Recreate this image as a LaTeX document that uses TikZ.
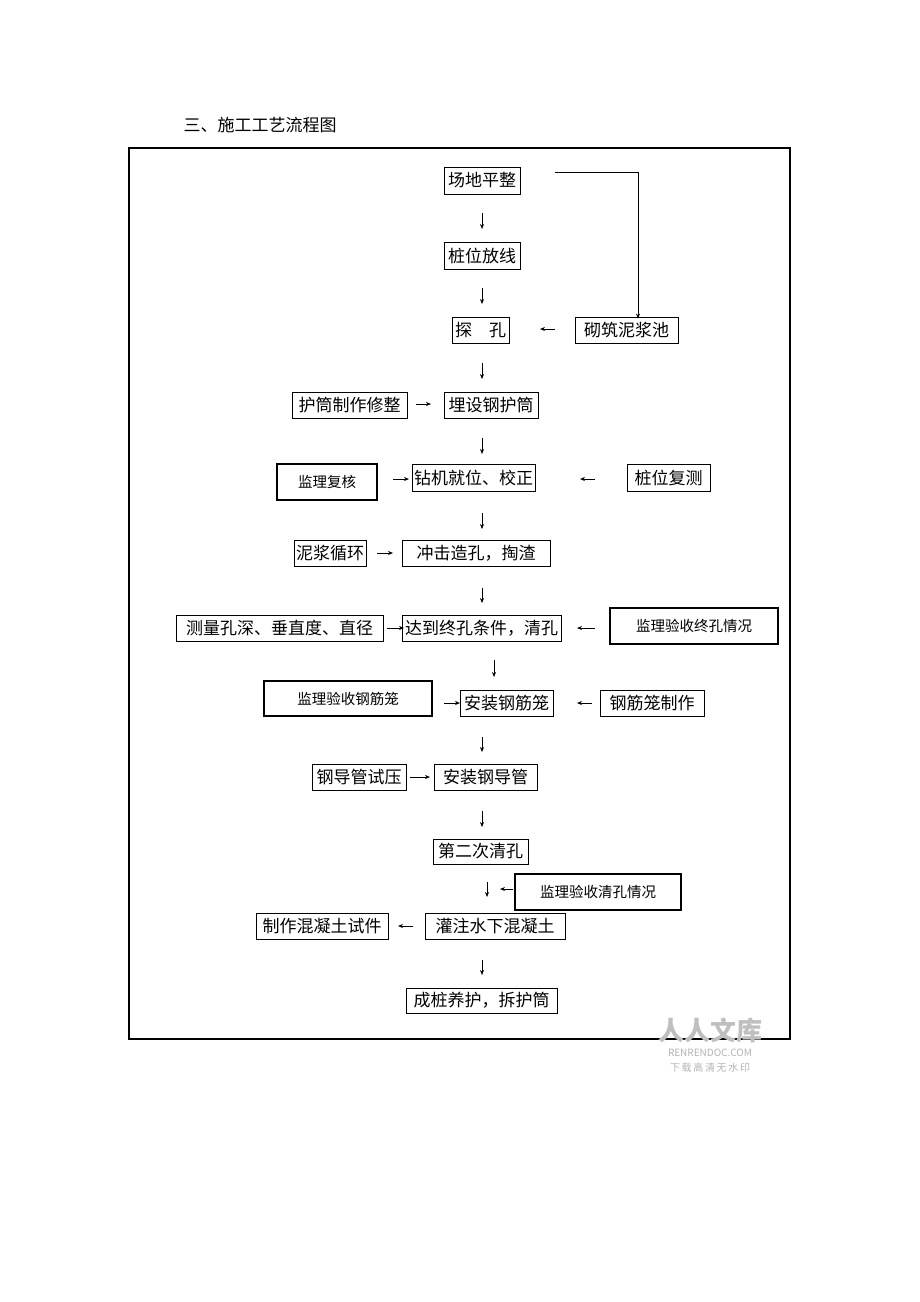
\documentclass[tikz,border=0pt]{standalone}
\usepackage{fontspec}
\setmainfont{Noto Sans CJK SC}
\usetikzlibrary{arrows.meta}
\tikzset{
  box/.style={draw,line width=0.8pt,inner sep=0pt,font=\fontsize{17}{17}\selectfont},
  sbox/.style={draw,line width=1.2pt,inner sep=0pt,font=\fontsize{14.5}{15}\selectfont},
  arr/.style={line width=0.7pt,-{Stealth[length=5pt,width=4pt]}}
}
\newcommand\bx[7]{\node[#7,minimum width={#4pt-#2pt},minimum height={#5pt-#3pt}] (#1) at ({(#2+#4)/2},{-(#3+#5)/2}) {#6};}
\newcommand\ar[5]{\coordinate (#1s) at (#2,-#3); \coordinate (#1e) at (#4,-#5); \draw[arr] (#1s) -- (#1e);}
\begin{document}
\begin{tikzpicture}[x=1pt,y=1pt]
\useasboundingbox (0,0) rectangle (920,-1302);
\node[anchor=west,font=\fontsize{17}{17}\selectfont] (title) at (180,-125) {三、施工工艺流程图};
\draw[line width=2pt] (129,-148) rectangle (790,-1039);
\bx{b1}{444}{167}{520}{194}{场地平整}{box}
\bx{b2}{444}{242}{520}{269}{桩位放线}{box}
\bx{b3}{452}{317}{509}{343}{探\quad 孔}{box}
\bx{b4}{575}{317}{678}{343}{砌筑泥浆池}{box}
\bx{b5}{292}{392}{407}{418}{护筒制作修整}{box}
\bx{b6}{444}{392}{538}{418}{埋设钢护筒}{box}
\bx{b7}{277}{464}{377}{500}{监理复核}{sbox}
\bx{b8}{412}{464}{535}{491}{钻机就位、校正}{box}
\bx{b9}{627}{464}{710}{491}{桩位复测}{box}
\bx{b10}{294}{540}{366}{566}{泥浆循环}{box}
\bx{b11}{402}{540}{550}{566}{冲击造孔，掏渣}{box}
\bx{b12}{176}{615}{383}{641}{测量孔深、垂直度、直径}{box}
\bx{b13}{402}{615}{561}{641}{达到终孔条件，清孔}{box}
\bx{b14}{610}{608}{778}{644}{监理验收终孔情况}{sbox}
\bx{b15}{264}{681}{432}{716}{监理验收钢筋笼}{sbox}
\bx{b16}{460}{690}{553}{716}{安装钢筋笼}{box}
\bx{b17}{600}{690}{704}{716}{钢筋笼制作}{box}
\bx{b18}{312}{764}{406}{790}{钢导管试压}{box}
\bx{b19}{434}{764}{537}{790}{安装钢导管}{box}
\bx{b20}{433}{839}{528}{864}{第二次清孔}{box}
\bx{b21}{515}{874}{681}{910}{监理验收清孔情况}{sbox}
\bx{b22}{425}{913}{565}{939}{灌注水下混凝土}{box}
\bx{b23}{256}{913}{388}{939}{制作混凝土试件}{box}
\bx{b24}{406}{988}{557}{1013}{成桩养护，拆护筒}{box}
% long connector
\coordinate (c1) at (555,-172);
\coordinate (c2) at (638,-172);
\draw[arr] (c1) -- (c2) -- ([yshift=-2pt]b4.north -| c2);
\ar{a1}{482}{213}{482}{229}
\ar{a2}{482}{288}{482}{304}
\ar{a3}{555}{329}{540}{329}
\ar{a4}{482}{363}{482}{379}
\ar{a5}{416}{404}{431}{404}
\ar{a6}{482}{438}{482}{454}
\ar{a7}{393}{479}{409}{479}
\ar{a8}{595}{479}{580}{479}
\ar{a9}{482}{513}{482}{529}
\ar{a10}{377}{553}{393}{553}
\ar{a11}{482}{588}{482}{603}
\ar{a12}{387}{628}{404}{628}
\ar{a13}{595}{628}{577}{628}
\ar{a14}{494}{660}{494}{677}
\ar{a15}{444}{703}{460}{703}
\ar{a16}{592}{703}{577}{703}
\ar{a17}{482}{737}{482}{752}
\ar{a18}{410}{777}{430}{777}
\ar{a19}{482}{811}{482}{827}
\ar{a20}{487}{882}{487}{897}
\ar{a21}{513}{889}{500}{889}
\ar{a22}{413}{926}{398}{926}
\ar{a23}{482}{960}{482}{975}
% watermark
\node[text=black!25,font=\fontsize{26}{26}\selectfont\bfseries] (w1) at (710,-1030) {人人文库};
\node[text=black!30,font=\fontsize{10}{10}\selectfont] (w2) at (710,-1053) {RENRENDOC.COM};
\node[text=black!30,font=\fontsize{10}{10}\selectfont] (w3) at (710,-1068) {下\,载\,高\,清\,无\,水\,印};
\end{tikzpicture}
\end{document}
